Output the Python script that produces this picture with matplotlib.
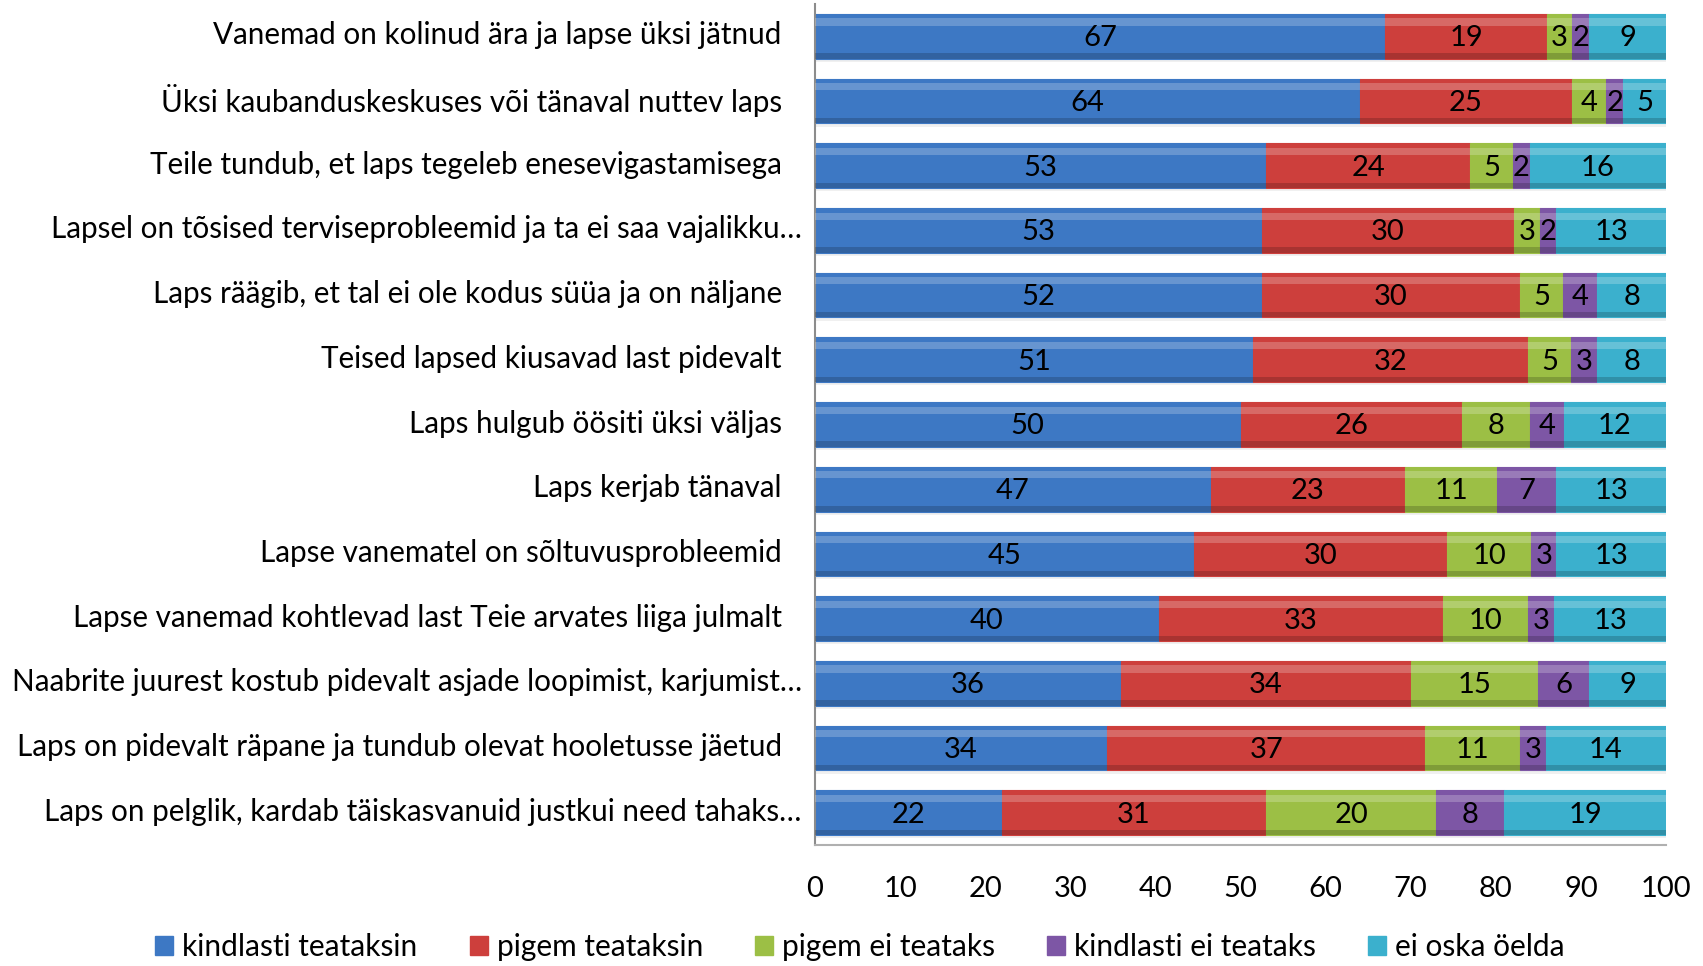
import numpy as np
import matplotlib.pyplot as plt
from matplotlib.patches import Patch
from matplotlib.transforms import ScaledTranslation

plt.rcParams['font.family'] = ['Lato', 'DejaVu Sans']

categories = [
    "Vanemad on kolinud ära ja lapse üksi jätnud",
    "Üksi kaubanduskeskuses või tänaval nuttev laps",
    "Teile tundub, et laps tegeleb enesevigastamisega",
    "Lapsel on tõsised terviseprobleemid ja ta ei saa vajalikku…",
    "Laps räägib, et tal ei ole kodus süüa ja on näljane",
    "Teised lapsed kiusavad last pidevalt",
    "Laps hulgub öösiti üksi väljas",
    "Laps kerjab tänaval",
    "Lapse vanematel on sõltuvusprobleemid",
    "Lapse vanemad kohtlevad last Teie arvates liiga julmalt",
    "Naabrite juurest kostub pidevalt asjade loopimist, karjumist…",
    "Laps on pidevalt räpane ja tundub olevat hooletusse jäetud",
    "Laps on pelglik, kardab täiskasvanuid justkui need tahaks…",
]
series = ["kindlasti teataksin", "pigem teataksin", "pigem ei teataks",
          "kindlasti ei teataks", "ei oska öelda"]
kindlasti = [67, 64, 53, 53, 52, 51, 50, 47, 45, 40, 36, 34, 22]
pigem = [19, 25, 24, 30, 30, 32, 26, 23, 30, 33, 34, 37, 31]
pigem_ei = [3, 4, 5, 3, 5, 5, 8, 11, 10, 10, 15, 11, 20]
kindlasti_ei = [2, 2, 2, 2, 4, 3, 4, 7, 3, 3, 6, 3, 8]
ei_oska = [9, 5, 16, 13, 8, 8, 12, 13, 13, 13, 9, 14, 19]
colors = ["#3d78c4", "#cd3f3c", "#9cbf45", "#7d56a5", "#3bb0cd"]

values = np.array([kindlasti, pigem, pigem_ei, kindlasti_ei, ei_oska], dtype=float)
shares = values / values.sum(axis=0) * 100  # 100% stacked

fig = plt.figure(figsize=(17.03, 9.66), dpi=100)
ax = fig.add_axes([815 / 1703, 1 - 845 / 966, 851 / 1703, 841 / 966])

y = np.arange(len(categories))[::-1]
h = 0.69
left = np.zeros(len(categories))
for vals, share, col in zip(values, shares, colors):
    # shadow under bars
    ax.barh(y - 0.05, share, h, left=left, color="#000000", alpha=0.06, zorder=1)
    ax.barh(y, share, h, left=left, color=col, edgecolor=col, linewidth=0.8, zorder=2)
    # highlight on top, darker band at the bottom
    ax.barh(y + h * 0.32, share, h * 0.16, left=left, color="white", alpha=0.22,
            linewidth=0, zorder=3)
    ax.barh(y - h * 0.44, share, h * 0.12, left=left, color="black", alpha=0.18,
            linewidth=0, zorder=3)
    for yi, l, s, v in zip(y, left, share, vals):
        ax.text(l + s / 2, yi - 0.03, f"{int(v)}", ha="center", va="center",
                fontsize=21, color="black", zorder=4)
    left += share

ax.set_xlim(0, 100)
ax.set_ylim(-0.5, len(categories) - 0.5)
ax.set_xticks(np.arange(0, 101, 10))
ax.set_yticks(y)
ax.set_yticklabels(categories)
ax.tick_params(axis="x", length=0, pad=22, labelsize=21)
ax.tick_params(axis="y", length=0, pad=24, labelsize=21.3)
# labels sit a bit above bar centre; truncated ones closer to the axis
for lbl in ax.get_yticklabels():
    dx = 0.2 if lbl.get_text().endswith("…") else 0
    lbl.set_transform(lbl.get_transform()
                      + ScaledTranslation(dx, 0.035, fig.dpi_scale_trans))
for side in ["top", "right"]:
    ax.spines[side].set_visible(False)
ax.spines["left"].set_color("#8c8c8c")
ax.spines["bottom"].set_color("#b0b0b0")
ax.spines["left"].set_linewidth(1.5)
ax.spines["bottom"].set_linewidth(1.5)

handles = [Patch(facecolor=c, edgecolor=c) for c in colors]
fig.legend(handles, series, loc="center", bbox_to_anchor=(0.505, 1 - 947 / 966),
           ncol=5, frameon=False, fontsize=21.5, handlelength=0.6, handleheight=0.6,
           handletextpad=0.3, columnspacing=1.75)

fig.savefig("out.png", dpi=100)
